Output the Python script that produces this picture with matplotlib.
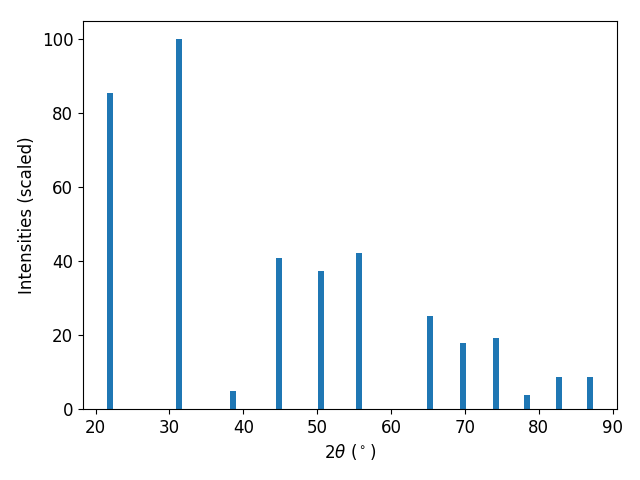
import matplotlib
matplotlib.use("Agg")
import matplotlib.pyplot as plt

two_theta = [21.98, 31.28, 38.58, 44.84, 50.48, 55.70, 65.30, 69.80, 74.25, 78.48, 82.72, 86.92]
intensities = [85.6, 100.0, 5.0, 40.9, 37.4, 42.3, 25.2, 17.9, 19.2, 3.8, 8.7, 8.7]

fig = plt.figure(figsize=(6.4, 4.8), dpi=100)
ax = fig.add_axes([83 / 640, 1 - 409 / 480, (617 - 83) / 640, (409 - 21) / 480])
ax.bar(two_theta, intensities, width=0.8, color="#1f77b4")
ax.set_xlabel(r"2$\theta$ ($^\circ$)", fontsize=12)
ax.set_ylabel("Intensities (scaled)", fontsize=12)
ax.tick_params(labelsize=12)
fig.savefig("out.png")
